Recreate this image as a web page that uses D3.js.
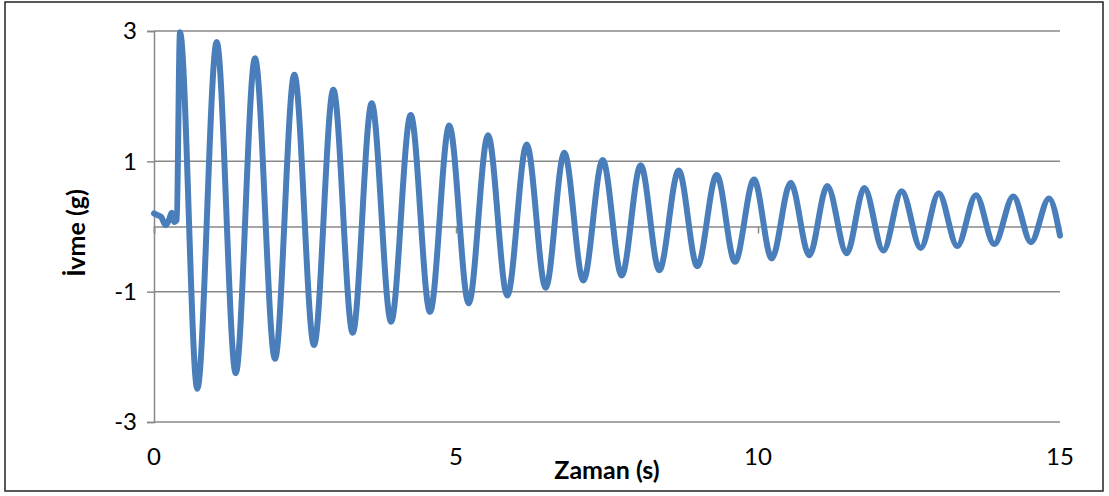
<!DOCTYPE html>
<html>
<head>
<meta charset="utf-8">
<script src="https://cdn.jsdelivr.net/npm/d3@7"></script>
<style>
  html, body { margin: 0; padding: 0; background: #fff; }
  svg { display: block; }
  text { font-family: Lato, "Noto Sans", sans-serif; fill: #000; }
</style>
</head>
<body>
<svg id="chart" width="1109" height="496"></svg>
<script>
// ---- data ----
// initial low-level motion before the main pulse
const startTimes  = [0.00, 0.045, 0.116, 0.194, 0.248, 0.293, 0.336, 0.376];
const startValues = [0.20, 0.18, 0.15, 0.02, 0.10, 0.21, 0.07, 0.10];
// positive peaks
const peakTimes  = [0.430, 1.038, 1.672, 2.323, 2.969, 3.604, 4.250, 4.889, 5.530, 6.171, 6.793, 7.429,
                    8.058, 8.687, 9.316, 9.934, 10.541, 11.147, 11.760, 12.379, 12.992, 13.609, 14.227, 14.818];
const peakValues = [2.98, 2.83, 2.58, 2.33, 2.10, 1.89, 1.71, 1.55, 1.40, 1.26, 1.13, 1.02,
                    0.94, 0.86, 0.79, 0.72, 0.67, 0.62, 0.59, 0.54, 0.51, 0.48, 0.46, 0.43];
// negative troughs
const troughTimes  = [0.717, 1.353, 2.003, 2.649, 3.290, 3.925, 4.570, 5.210, 5.849, 6.485, 7.108, 7.743,
                      8.366, 8.995, 9.619, 10.227, 10.849, 11.469, 12.075, 12.694, 13.300, 13.912, 14.520];
const troughValues = [-2.49, -2.25, -2.03, -1.82, -1.63, -1.46, -1.31, -1.18, -1.06, -0.94, -0.83, -0.75,
                      -0.67, -0.61, -0.54, -0.49, -0.44, -0.41, -0.37, -0.33, -0.30, -0.27, -0.24];
// last recorded sample
const endTimes  = [15.0];
const endValues = [-0.14];

const xTicks = [0, 5, 10, 15];
const yTicks = [3, 1, -1, -3];
const xTitle = "Zaman (s)";
const yTitle = "İvme (g)";

// ---- build series ----
function zip(ts, vs) { return ts.map((t, i) => ({ t: t, v: vs[i] })); }
const series = [].concat(
  zip(startTimes, startValues),
  zip(peakTimes, peakValues),
  zip(troughTimes, troughValues),
  zip(endTimes, endValues)
).sort((a, b) => a.t - b.t);

// ---- layout ----
const svg = d3.select("#chart");
const plotL = 154, plotR = 1060, plotT = 31, plotB = 422;
const x = d3.scaleLinear().domain([0, 15]).range([plotL, plotR]);
const y = d3.scaleLinear().domain([-3, 3]).range([plotB, plotT]);
const gridColor = "#898989";

svg.append("rect").attr("width", 1109).attr("height", 496).attr("fill", "#fff");
svg.append("rect")
  .attr("x", 5).attr("y", 2).attr("width", 1098).attr("height", 489)
  .attr("fill", "none").attr("stroke", "#222").attr("stroke-width", 1.5);

// horizontal gridlines
svg.append("g").selectAll("line").data(yTicks).join("line")
  .attr("x1", plotL).attr("x2", plotR)
  .attr("y1", d => y(d)).attr("y2", d => y(d))
  .attr("stroke", gridColor).attr("stroke-width", 1.5);

// y axis
const yAxis = d3.axisLeft(y).tickValues(yTicks).tickSize(7).tickPadding(10).tickFormat(d => String(d));
const gy = svg.append("g").attr("transform", `translate(${plotL},0)`).call(yAxis);
gy.select(".domain").attr("stroke", gridColor).attr("stroke-width", 1.5);
gy.selectAll(".tick line").attr("stroke", gridColor).attr("stroke-width", 1.5);
gy.selectAll(".tick text").attr("font-size", 24).attr("font-family", "Lato, 'Noto Sans', sans-serif").attr("fill", "#000");

// x axis line at zero with downward ticks (labels placed low)
const xAxis = d3.axisBottom(x).tickValues(xTicks).tickSize(7).tickFormat("");
const gx = svg.append("g").attr("transform", `translate(0,${y(0)})`).call(xAxis);
gx.select(".domain").attr("stroke", gridColor).attr("stroke-width", 1.5);
gx.selectAll(".tick line").attr("stroke", gridColor).attr("stroke-width", 1.5);

svg.append("g").selectAll("text").data(xTicks).join("text")
  .attr("x", d => x(d)).attr("y", 465)
  .attr("text-anchor", "middle")
  .attr("font-size", 24)
  .text(d => String(d));

// data line
const line = d3.line().x(d => x(d.t)).y(d => y(d.v)).curve(d3.curveMonotoneX);
svg.append("path").datum(series)
  .attr("d", line)
  .attr("fill", "none")
  .attr("stroke", "#4a7ebb")
  .attr("stroke-width", 6)
  .attr("stroke-linejoin", "round")
  .attr("stroke-linecap", "round");

// axis titles
svg.append("text")
  .attr("x", 607).attr("y", 479)
  .attr("text-anchor", "middle")
  .attr("font-size", 25).attr("font-weight", "bold")
  .text(xTitle);

svg.append("text")
  .attr("transform", "translate(85,233) rotate(-90)")
  .attr("text-anchor", "middle")
  .attr("font-size", 25).attr("font-weight", "bold")
  .text(yTitle);
</script>
</body>
</html>
